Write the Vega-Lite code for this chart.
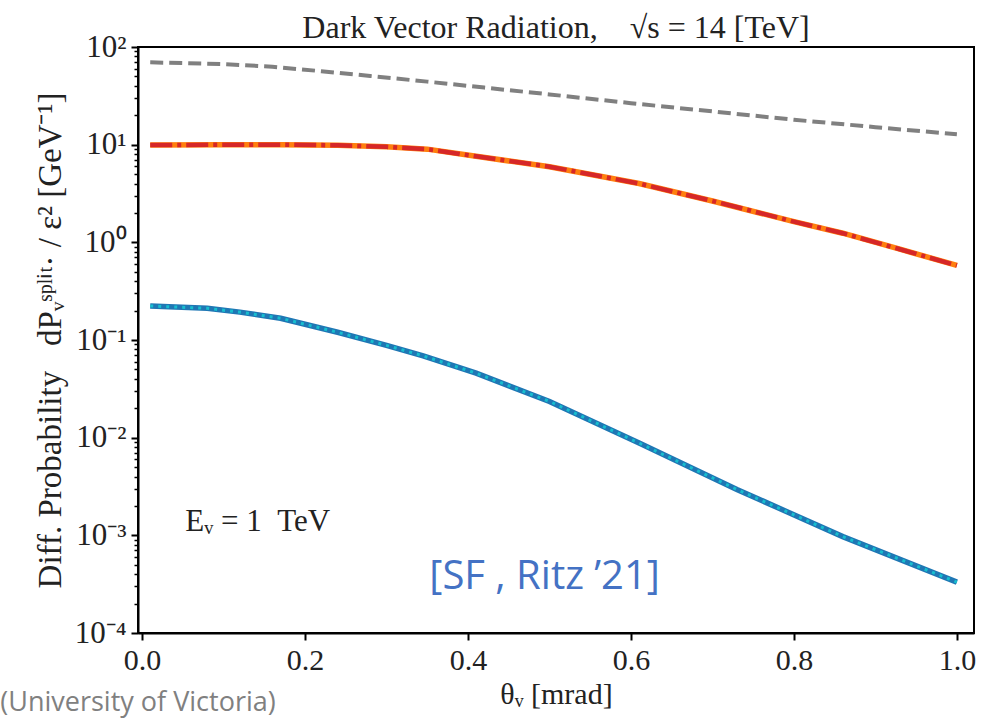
{
  "$schema": "https://vega.github.io/schema/vega-lite/v6.json",
  "width": 836,
  "height": 586,
  "autosize": {"type": "none"},
  "padding": {"left": 138, "top": 47, "right": 13, "bottom": 86},
  "background": "white",
  "config": {
    "view": {"stroke": "black", "strokeWidth": 2},
    "axis": {"grid": false}
  },
  "title": {
    "text": "Dark Vector Radiation,\u00a0\u00a0\u00a0\u00a0√s = 14 [TeV]",
    "font": "Liberation Serif",
    "fontSize": 32,
    "fontWeight": "normal",
    "color": "#222222",
    "anchor": "middle",
    "frame": "group",
    "offset": -14
  },
  "datasets": {
    "curves": [
      {"series": "gray", "theta": 0.01, "value": 69.7},
      {"series": "gray", "theta": 0.1, "value": 66.8},
      {"series": "gray", "theta": 0.16, "value": 62.8},
      {"series": "gray", "theta": 0.22, "value": 56.5},
      {"series": "gray", "theta": 0.28, "value": 50.5},
      {"series": "gray", "theta": 0.35, "value": 44.2},
      {"series": "gray", "theta": 0.42, "value": 38.4},
      {"series": "gray", "theta": 0.5, "value": 32.7},
      {"series": "gray", "theta": 0.6, "value": 26.6},
      {"series": "gray", "theta": 0.7, "value": 21.9},
      {"series": "gray", "theta": 0.8, "value": 18.0},
      {"series": "gray", "theta": 0.9, "value": 15.1},
      {"series": "gray", "theta": 1.0, "value": 12.8},
      {"series": "red", "theta": 0.01, "value": 9.9},
      {"series": "red", "theta": 0.1, "value": 10.0},
      {"series": "red", "theta": 0.17, "value": 10.0},
      {"series": "red", "theta": 0.24, "value": 9.85},
      {"series": "red", "theta": 0.3, "value": 9.5},
      {"series": "red", "theta": 0.35, "value": 9.0},
      {"series": "red", "theta": 0.41, "value": 7.6},
      {"series": "red", "theta": 0.5, "value": 5.95},
      {"series": "red", "theta": 0.61, "value": 4.0},
      {"series": "red", "theta": 0.7, "value": 2.65},
      {"series": "red", "theta": 0.8, "value": 1.63},
      {"series": "red", "theta": 0.86, "value": 1.24},
      {"series": "red", "theta": 0.93, "value": 0.85},
      {"series": "red", "theta": 1.0, "value": 0.58},
      {"series": "blue", "theta": 0.01, "value": 0.223},
      {"series": "blue", "theta": 0.08, "value": 0.211},
      {"series": "blue", "theta": 0.12, "value": 0.193},
      {"series": "blue", "theta": 0.17, "value": 0.167},
      {"series": "blue", "theta": 0.24, "value": 0.12},
      {"series": "blue", "theta": 0.3, "value": 0.088},
      {"series": "blue", "theta": 0.345, "value": 0.0688},
      {"series": "blue", "theta": 0.41, "value": 0.0457},
      {"series": "blue", "theta": 0.5, "value": 0.0235},
      {"series": "blue", "theta": 0.61, "value": 0.0088},
      {"series": "blue", "theta": 0.73, "value": 0.00295},
      {"series": "blue", "theta": 0.86, "value": 0.00097},
      {"series": "blue", "theta": 1.0, "value": 0.000332}
    ],
    "notes": [
      {"label": "ev", "text": "Eᵥ = 1\u00a0\u00a0TeV", "theta": 0.053, "value": 0.00137},
      {"label": "ref", "text": "[SF , Ritz ’21]", "theta": 0.494, "value": 0.000376},
      {"label": "uni", "text": "(University of Victoria)", "theta": -0.174, "value": 0.0000158}
    ]
  },
  "encoding": {
    "x": {
      "field": "theta",
      "type": "quantitative",
      "scale": {"domain": [-0.005, 1.021], "nice": false, "zero": false},
      "axis": {
        "values": [0, 0.2, 0.4, 0.6, 0.8, 1.0],
        "format": ".1f",
        "labelFont": "Liberation Serif",
        "labelFontSize": 30,
        "labelColor": "#222222",
        "labelPadding": 5,
        "tickSize": 7,
        "tickWidth": 2,
        "tickColor": "black",
        "domainColor": "black",
        "domainWidth": 2,
        "title": "θᵥ [mrad]",
        "titleFont": "Liberation Serif",
        "titleFontSize": 30,
        "titleFontWeight": "normal",
        "titleColor": "#222222",
        "titlePadding": 4
      }
    },
    "y": {
      "field": "value",
      "type": "quantitative",
      "scale": {"type": "log", "domain": [0.0001, 100], "nice": false},
      "axis": {
        "values": [0.0001, 0.0002, 0.0003, 0.0004, 0.0005, 0.0006, 0.0007, 0.0008, 0.0009, 0.001, 0.002, 0.003, 0.004, 0.005, 0.006, 0.007, 0.008, 0.009, 0.01, 0.02, 0.03, 0.04, 0.05, 0.06, 0.07, 0.08, 0.09, 0.1, 0.2, 0.3, 0.4, 0.5, 0.6, 0.7, 0.8, 0.9, 1, 2, 3, 4, 5, 6, 7, 8, 9, 10, 20, 30, 40, 50, 60, 70, 80, 90, 100],
        "labelExpr": "abs(log(datum.value)/LN10 - round(log(datum.value)/LN10)) > 0.01 ? '' : '10' + (round(log(datum.value)/LN10) < 0 ? '⁻' : '') + ['⁰','¹','²','³','⁴'][abs(round(log(datum.value)/LN10))]",
        "labelFont": "Liberation Serif",
        "labelFontSize": 31,
        "labelColor": "#222222",
        "labelPadding": 5,
        "tickSize": {"condition": {"test": "abs(log(datum.value)/LN10 - round(log(datum.value)/LN10)) < 0.01", "value": 7}, "value": 4},
        "tickWidth": {"condition": {"test": "abs(log(datum.value)/LN10 - round(log(datum.value)/LN10)) < 0.01", "value": 2}, "value": 1.5},
        "tickColor": "black",
        "domainColor": "black",
        "domainWidth": 2,
        "title": "Diff. Probability\u00a0\u00a0\u00a0dPᵥˢᵖˡⁱᵗ· / ε²\u00a0[GeV⁻¹]",
        "titleFont": "Liberation Serif",
        "titleFontSize": 33,
        "titleFontWeight": "normal",
        "titleColor": "#222222",
        "titlePadding": 7
      }
    }
  },
  "layer": [
    {
      "data": {"name": "curves"},
      "transform": [{"filter": "datum.series == 'gray'"}],
      "mark": {"type": "line", "color": "#808080", "strokeWidth": 4, "strokeDash": [13, 6]}
    },
    {
      "data": {"name": "curves"},
      "transform": [{"filter": "datum.series == 'red'"}],
      "mark": {"type": "line", "color": "#ff7f0e", "strokeWidth": 5.5}
    },
    {
      "data": {"name": "curves"},
      "transform": [{"filter": "datum.series == 'red'"}],
      "mark": {"type": "line", "color": "#d62728", "strokeWidth": 4.5, "strokeDash": [22, 5, 4, 5]}
    },
    {
      "data": {"name": "curves"},
      "transform": [{"filter": "datum.series == 'blue'"}],
      "mark": {"type": "line", "color": "#1f77b4", "strokeWidth": 5.5}
    },
    {
      "data": {"name": "curves"},
      "transform": [{"filter": "datum.series == 'blue'"}],
      "mark": {"type": "line", "color": "#17becf", "strokeWidth": 3, "strokeDash": [3, 5]}
    },
    {
      "data": {"name": "notes"},
      "transform": [{"filter": "datum.label == 'ev'"}],
      "mark": {"type": "text", "font": "Liberation Serif", "fontSize": 31, "align": "left", "baseline": "middle", "color": "#222222"},
      "encoding": {"text": {"field": "text"}}
    },
    {
      "data": {"name": "notes"},
      "transform": [{"filter": "datum.label == 'ref'"}],
      "mark": {"type": "text", "font": "Open Sans", "fontSize": 40, "align": "center", "baseline": "middle", "color": "#4472c4"},
      "encoding": {"text": {"field": "text"}}
    },
    {
      "data": {"name": "notes"},
      "transform": [{"filter": "datum.label == 'uni'"}],
      "mark": {"type": "text", "font": "Open Sans", "fontSize": 27, "align": "left", "baseline": "alphabetic", "color": "#808080"},
      "encoding": {"text": {"field": "text"}}
    }
  ]
}
